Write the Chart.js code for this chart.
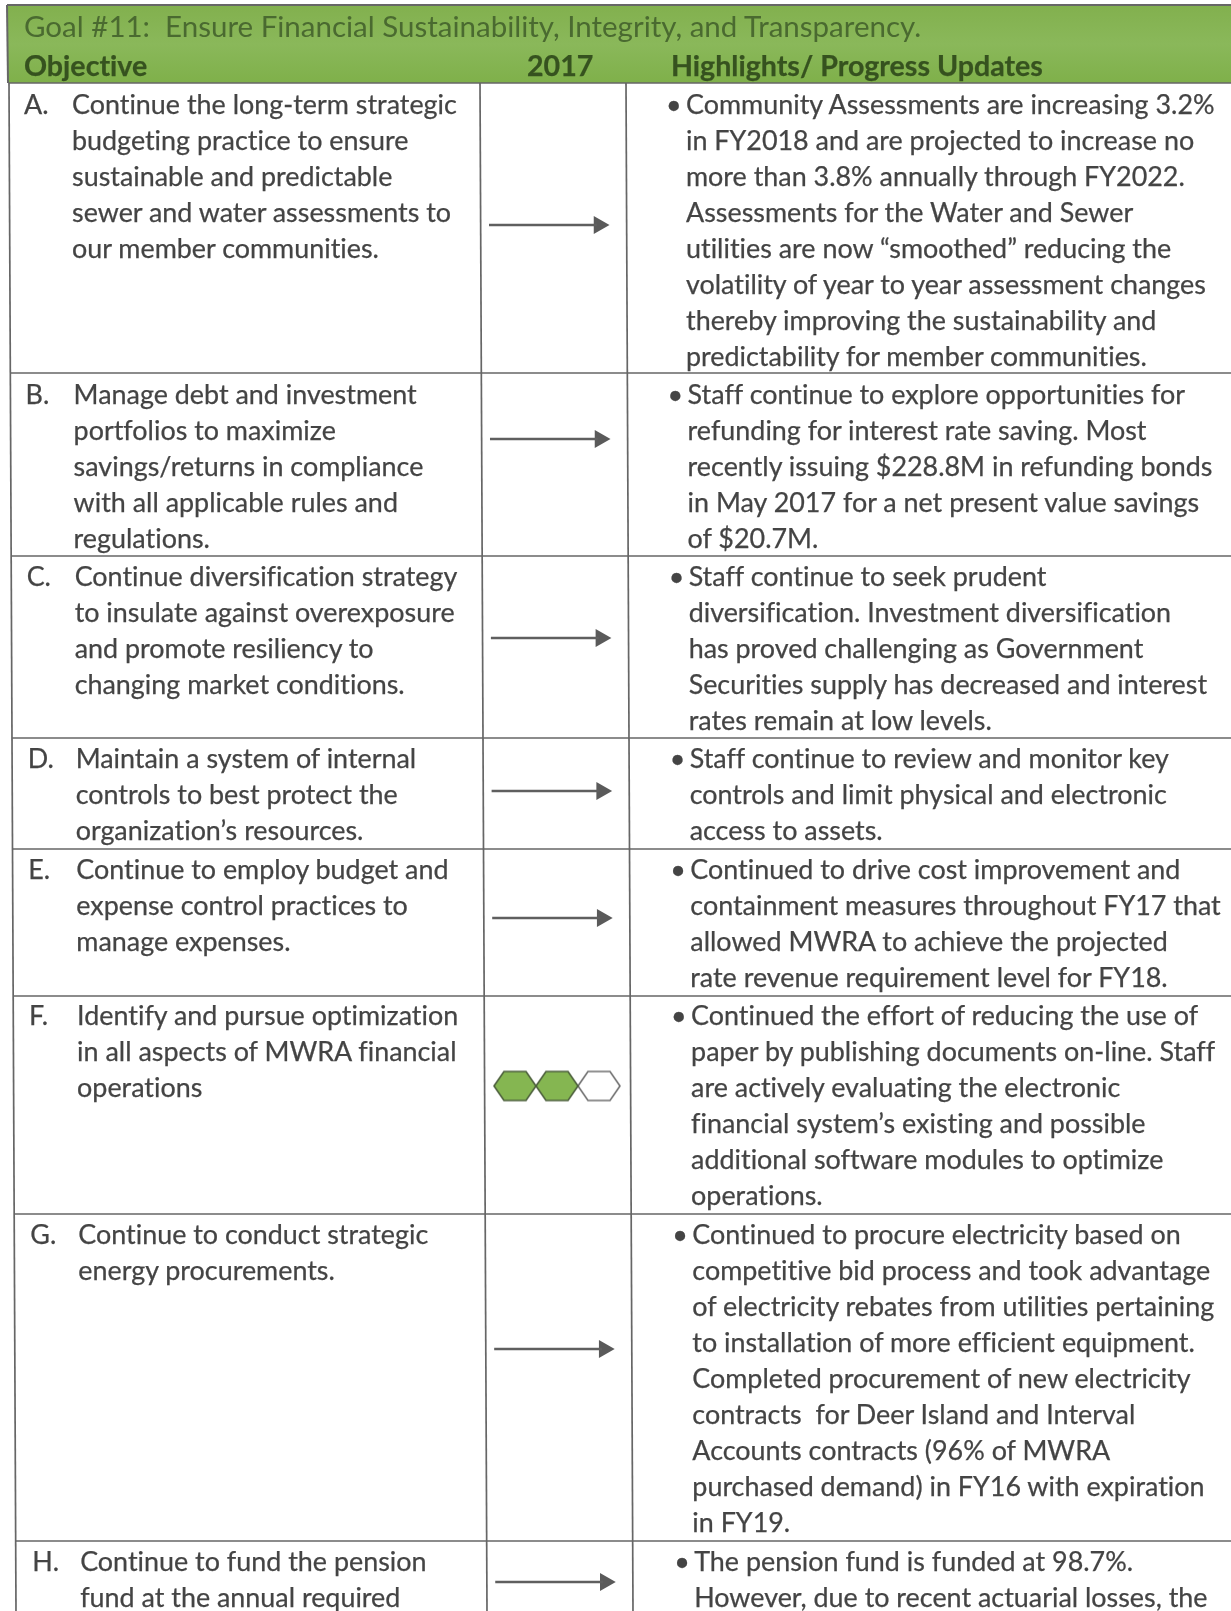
<!DOCTYPE html>
<html><head><meta charset="utf-8">
<script src="https://cdn.jsdelivr.net/npm/chart.js@4"></script>
<style>
html,body{margin:0;padding:0;background:#fff;width:1231px;height:1611px;overflow:hidden}
#wrap{position:relative;width:1231px;height:1611px;overflow:hidden}
canvas{position:absolute;left:0;top:0}
.t{position:absolute;white-space:pre;font-family:Lato,sans-serif;font-size:26.9px;line-height:36px;color:#444;transform:translateY(-50%);filter:blur(.4px);font-variant-ligatures:none;-webkit-text-stroke:.25px #444}
.h{color:#36521f;-webkit-text-stroke:.25px #36521f}.b{font-weight:700;font-size:28.6px}
.g{font-size:29.5px;font-weight:400;color:#4a6a30;-webkit-text-stroke:0}
</style></head><body><div id="wrap"><canvas id="c" width="1231" height="1611"></canvas></div>
<script>
const goalTitle = "Goal #11:  Ensure Financial Sustainability, Integrity, and Transparency.";
const headers = ["Objective", "2017", "Highlights/ Progress Updates"];
const rowLetters = ["A.","B.","C.","D.","E.","F.","G.","H."];
const objectives = [
 ["Continue the long-term strategic","budgeting practice to ensure","sustainable and predictable","sewer and water assessments to","our member communities."],
 ["Manage debt and investment","portfolios to maximize","savings/returns in compliance","with all applicable rules and","regulations."],
 ["Continue diversification strategy","to insulate against overexposure","and promote resiliency to","changing market conditions."],
 ["Maintain a system of internal","controls to best protect the","organization\u2019s resources."],
 ["Continue to employ budget and","expense control practices to","manage expenses."],
 ["Identify and pursue optimization","in all aspects of MWRA financial","operations"],
 ["Continue to conduct strategic","energy procurements."],
 ["Continue to fund the pension","fund at the annual required"]
];
const highlights = [
 ["Community Assessments are increasing 3.2%","in FY2018 and are projected to increase no","more than 3.8% annually through FY2022.","Assessments for the Water and Sewer","utilities are now \u201csmoothed\u201d reducing the","volatility of year to year assessment changes","thereby improving the sustainability and","predictability for member communities."],
 ["Staff continue to explore opportunities for","refunding for interest rate saving. Most","recently issuing $228.8M in refunding bonds","in May 2017 for a net present value savings","of $20.7M."],
 ["Staff continue to seek prudent","diversification. Investment diversification","has proved challenging as Government","Securities supply has decreased and interest","rates remain at low levels."],
 ["Staff continue to review and monitor key","controls and limit physical and electronic","access to assets."],
 ["Continued to drive cost improvement and","containment measures throughout FY17 that","allowed MWRA to achieve the projected","rate revenue requirement level for FY18."],
 ["Continued the effort of reducing the use of","paper by publishing documents on-line. Staff","are actively evaluating the electronic","financial system\u2019s existing and possible","additional software modules to optimize","operations."],
 ["Continued to procure electricity based on","competitive bid process and took advantage","of electricity rebates from utilities pertaining","to installation of more efficient equipment.","Completed procurement of new electricity","contracts  for Deer Island and Interval","Accounts contracts (96% of MWRA","purchased demand) in FY16 with expiration","in FY19."],
 ["The pension fund is funded at 98.7%.","However, due to recent actuarial losses, the"]
];
// 0 = arrow (no change); otherwise number of filled hexagons out of three
const status = [0,0,0,0,0,2,0,0];
const rowBottoms = [373,556,738,849,996,1214,1541];
const rowFirstLine = [104,394,576,758,869,1015,1234,1561];
const statusY = [225,439,638,791,918,1086,1349,1582];
const arrowSpan = [489,607];
const hexCentres = [515,557,599];
const headerTop = 5, headerBottom = 83, pageBottom = 1611, pageRight = 1231;
const columnX = [9,480,626];
const shear = 0.0046;

const sx = (x,y)=> x + shear*(y-84);
const gridColor = '#666';
function seg(x1,y1,x2,y2,w){return {type:'scatter',showLine:true,data:[{x:x1,y:y1},{x:x2,y:y2}],borderColor:gridColor,borderWidth:w||1.7,pointRadius:0,order:5};}
const datasets = [];
rowBottoms.concat([headerBottom]).forEach(y=>datasets.push(seg(sx(columnX[0],y),y,pageRight,y)));
datasets.push(seg(columnX[0]-2,headerTop,pageRight,headerTop,2));
datasets.push(seg(columnX[0]-2,headerTop,columnX[0]-1,headerBottom,2));
columnX.forEach((x,i)=>datasets.push(seg(sx(x,headerBottom),headerBottom,sx(x,pageBottom),pageBottom)));

function hexImage(fill){
  const cv=document.createElement('canvas');cv.width=46;cv.height=33;const g=cv.getContext('2d');
  g.beginPath();[[2,16.5],[12,2],[34,2],[44,16.5],[34,31],[12,31]].forEach((p,i)=>i?g.lineTo(p[0],p[1]):g.moveTo(p[0],p[1]));g.closePath();
  g.fillStyle=fill?'#85b651':'#fff';g.fill();
  g.lineWidth=1.6;g.strokeStyle=fill?'#4c5f3c':'#6f6f6f';g.stroke();return cv;
}
status.forEach((s,i)=>{
  const y=statusY[i];
  if(s===0){
    const x1=shear*(y-225)+arrowSpan[0], x2=x1+arrowSpan[1]-arrowSpan[0];
    datasets.push({type:'scatter',showLine:true,data:[{x:x1,y},{x:x2-10,y}],borderColor:'#5f5f5f',borderWidth:2.6,pointRadius:0,order:1});
    datasets.push({type:'scatter',data:[{x:x2-8,y}],pointStyle:'triangle',rotation:90,pointRadius:10.5,backgroundColor:'#5a5a5a',borderColor:'#5a5a5a',borderWidth:0,order:1});
  } else {
    hexCentres.forEach((cx,k)=>datasets.push({type:'scatter',data:[{x:cx,y}],pointStyle:hexImage(k<s),pointRadius:16,order:1}));
  }
});
const headerFill={id:'headerFill',beforeDatasetsDraw(ch){
  const {x,y}=ch.scales,c=ch.ctx,g=c.createLinearGradient(0,y.getPixelForValue(headerTop),0,y.getPixelForValue(headerBottom));
  g.addColorStop(0,'#82b04e');g.addColorStop(.5,'#8ab85a');g.addColorStop(1,'#7fb04a');
  c.save();c.fillStyle=g;c.fillRect(x.getPixelForValue(columnX[0]-2),y.getPixelForValue(headerTop),x.getPixelForValue(pageRight)-x.getPixelForValue(columnX[0]-2),y.getPixelForValue(headerBottom)-y.getPixelForValue(headerTop));c.restore();
}};
new Chart(document.getElementById('c'),{type:'scatter',data:{datasets},plugins:[headerFill],options:{
  responsive:false,animation:false,events:[],layout:{padding:0,autoPadding:false},
  plugins:{legend:{display:false},tooltip:{enabled:false},title:{display:false}},
  scales:{x:{type:'linear',min:0,max:pageRight,display:false},y:{type:'linear',min:0,max:pageBottom,reverse:true,display:false}}
}});

const wrap=document.getElementById('wrap');
function put(s,x,y,cls,size){const e=document.createElement('div');e.className='t '+(cls||'');e.textContent=s;e.style.left=x+'px';e.style.top=y+'px';if(size)e.style.fontSize=size+'px';wrap.appendChild(e);return e;}
const pitch=36;
put(goalTitle,24,26,'h g');
put(headers[0],24,65,'h b');put(headers[1],527,65,'h b');put(headers[2],671,65,'h b');
const textShear=0.0056;
rowLetters.forEach((L,i)=>{
  const y=rowFirstLine[i], d=textShear*(y-104);
  put(L,24+d,y);
  objectives[i].forEach((s,k)=>put(s,72+d,y+k*pitch-.5));
  put('\u2022',666+d,y);
  highlights[i].forEach((s,k)=>put(s,686+d,y+k*pitch));
});
</script></body></html>
